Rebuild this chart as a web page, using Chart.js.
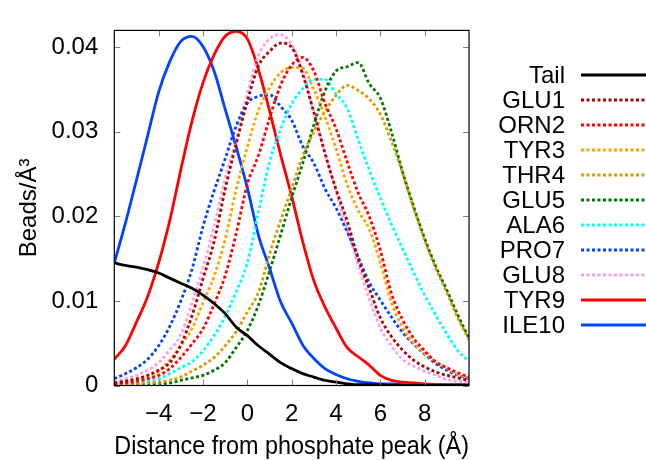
<!DOCTYPE html>
<html>
<head>
<meta charset="utf-8">
<script src="https://cdn.jsdelivr.net/npm/chart.js@4.4.0/dist/chart.umd.min.js"></script>
<style>
    html, body { margin: 0; padding: 0; background: #fff; }
    #wrap { width: 646px; height: 460px; }
</style>
</head>
<body>
<div id="wrap"><canvas id="chartOne" width="646" height="460"></canvas></div>
<script>
// distance from phosphate peak (Å)
var distancia = [-6, -5.5, -5, -4.5, -4, -3.5, -3, -2.5, -2, -1.5, -1, -0.5, 0, 0.5, 1, 1.5, 2,
                 2.5, 3, 3.5, 4, 4.5, 5, 5.5, 6, 6.5, 7, 7.5, 8, 8.5, 9, 9.5, 10];

var nombres = ['Tail', 'GLU1', 'ORN2', 'TYR3', 'THR4', 'GLU5', 'ALA6', 'PRO7', 'GLU8', 'TYR9', 'ILE10'];

var tail  = [0.0145, 0.0142, 0.0140, 0.0137, 0.0133, 0.0127, 0.0121, 0.0115, 0.0107, 0.0097, 0.0085, 0.0069, 0.0059, 0.0047, 0.0037, 0.0027, 0.0020,
             0.0014, 0.0010, 0.0006, 0.0004, 0.0002, 0.0001, 0.0001, 0.0001, 0, 0, 0, 0, 0, 0, 0, 0];
var glu1  = [0.0003, 0.0005, 0.0008, 0.0012, 0.0018, 0.0027, 0.0048, 0.0082, 0.0126, 0.0170, 0.0232, 0.0286, 0.0336, 0.0378, 0.0395, 0.0405, 0.0400,
             0.0368, 0.0323, 0.0275, 0.0232, 0.0195, 0.0150, 0.0115, 0.0080, 0.0058, 0.0042, 0.0030, 0.0022, 0.0016, 0.0012, 0.0009, 0.0006];
var orn2  = [0.0002, 0.0003, 0.0005, 0.0008, 0.0012, 0.0020, 0.0033, 0.0049, 0.0067, 0.0096, 0.0130, 0.0180, 0.0238, 0.0272, 0.0316, 0.0355, 0.0379,
             0.0388, 0.0372, 0.0334, 0.0304, 0.0265, 0.0228, 0.0200, 0.0160, 0.0109, 0.0078, 0.0056, 0.0041, 0.0028, 0.0021, 0.0015, 0.0010];
var tyr3  = [0.0003, 0.0004, 0.0006, 0.0009, 0.0017, 0.0030, 0.0047, 0.0067, 0.0098, 0.0129, 0.0173, 0.0232, 0.0282, 0.0325, 0.0352, 0.0370, 0.0376,
             0.0375, 0.0350, 0.0318, 0.0280, 0.0238, 0.0207, 0.0185, 0.0145, 0.0098, 0.0069, 0.0050, 0.0038, 0.0028, 0.0020, 0.0013, 0.0009];
var thr4  = [0.0001, 0.0001, 0.0002, 0.0003, 0.0004, 0.0006, 0.0010, 0.0017, 0.0024, 0.0033, 0.0047, 0.0064, 0.0087, 0.0110, 0.0155, 0.0195, 0.0233,
             0.0272, 0.0300, 0.0324, 0.0343, 0.0355, 0.0349, 0.0339, 0.0321, 0.0289, 0.0252, 0.0210, 0.0172, 0.0139, 0.0110, 0.0080, 0.0054];
var glu5  = [0, 0, 0.0001, 0.0001, 0.0002, 0.0003, 0.0006, 0.0009, 0.0012, 0.0018, 0.0027, 0.0045, 0.0065, 0.0095, 0.0135, 0.0178, 0.0222,
             0.0263, 0.0308, 0.0348, 0.0372, 0.0377, 0.0382, 0.0357, 0.0340, 0.0300, 0.0253, 0.0212, 0.0174, 0.0141, 0.0113, 0.0083, 0.0056];
var ala6  = [0.0001, 0.0002, 0.0003, 0.0005, 0.0008, 0.0014, 0.0021, 0.0028, 0.0041, 0.0059, 0.0082, 0.0111, 0.0145, 0.0205, 0.0264, 0.0303, 0.0333,
             0.0351, 0.0362, 0.0362, 0.0345, 0.0328, 0.0291, 0.0255, 0.0222, 0.0191, 0.0162, 0.0134, 0.0107, 0.0083, 0.0061, 0.0041, 0.0029];
var pro7  = [0.0008, 0.0014, 0.0021, 0.0031, 0.0047, 0.0070, 0.0100, 0.0137, 0.0188, 0.0230, 0.0268, 0.0307, 0.0334, 0.0342, 0.0344, 0.0330, 0.0314,
             0.0283, 0.0263, 0.0233, 0.0210, 0.0182, 0.0152, 0.0122, 0.0101, 0.0081, 0.0063, 0.0049, 0.0037, 0.0026, 0.0018, 0.0012, 0.0008];
var glu8  = [0.0004, 0.0008, 0.0012, 0.0018, 0.0027, 0.0042, 0.0060, 0.0097, 0.0139, 0.0188, 0.0245, 0.0290, 0.0345, 0.0390, 0.0410, 0.0415, 0.0403,
             0.0372, 0.0323, 0.0276, 0.0230, 0.0185, 0.0143, 0.0103, 0.0068, 0.0047, 0.0031, 0.0023, 0.0017, 0.0012, 0.0007, 0.0005, 0.0004];
var tyr9  = [0.0031, 0.0047, 0.0075, 0.0105, 0.0145, 0.0195, 0.0255, 0.0312, 0.0358, 0.0391, 0.0413, 0.0419, 0.0410, 0.0374, 0.0325, 0.0273, 0.0224,
             0.0170, 0.0124, 0.0093, 0.0068, 0.0045, 0.0034, 0.0024, 0.0012, 0.0006, 0.0004, 0.0003, 0.0002, 0.0001, 0.0001, 0.0001, 0.0001];
var ile10 = [0.0145, 0.0192, 0.0243, 0.0295, 0.0347, 0.0383, 0.0407, 0.0413, 0.0401, 0.0372, 0.0327, 0.0282, 0.0234, 0.0178, 0.0139, 0.0099, 0.0074,
             0.0048, 0.0032, 0.0020, 0.0013, 0.0008, 0.0005, 0.0003, 0.0002, 0.0002, 0.0001, 0.0001, 0.0001, 0.0001, 0.0001, 0.0001, 0.0001];

var series = [tail, glu1, orn2, tyr3, thr4, glu5, ala6, pro7, glu8, tyr9, ile10];

var xTicks = [-4, -2, 0, 2, 4, 6, 8];
var yTicks = [0, 0.01, 0.02, 0.03, 0.04];

// estilos
var colores = ['#000000', '#b00000', '#ff0000', '#ffa500', '#d89c00', '#007800', '#00ffff', '#0044ff', '#ff9ee6', '#ff0000', '#0044ff'];
var punteado = [false, true, true, true, true, true, true, true, true, false, false];
var FUENTE = "'Liberation Sans', Arial, sans-serif";
var TAM = 24;
var GROSOR = 2.8;
var DASH = [3, 2.5];

function puntos(vals) {
    return vals.map(function (v, i) { return { x: distancia[i], y: v }; });
}

var datasets = series.map(function (vals, i) {
    return {
        label: nombres[i],
        data: puntos(vals),
        borderColor: colores[i],
        borderWidth: GROSOR,
        borderDash: punteado[i] ? DASH : [],
        borderCapStyle: 'butt',
        pointRadius: 0,
        fill: false,
        cubicInterpolationMode: 'monotone'
    };
});

// marco y marcas hacia adentro (estilo gnuplot)
var marco = {
    id: 'marco',
    afterDatasetsDraw: function (chart) {
        var ctx = chart.ctx, a = chart.chartArea;
        var sx = chart.scales.x, sy = chart.scales.y;
        ctx.save();
        ctx.strokeStyle = '#808080';
        ctx.lineWidth = 1;
        ctx.setLineDash([]);
        xTicks.forEach(function (t) {
            var px = Math.round(sx.getPixelForValue(t)) + 0.5;
            ctx.beginPath();
            ctx.moveTo(px, a.bottom); ctx.lineTo(px, a.bottom - 6);
            ctx.moveTo(px, a.top); ctx.lineTo(px, a.top + 6);
            ctx.stroke();
        });
        yTicks.forEach(function (t) {
            var py = Math.round(sy.getPixelForValue(t)) + 0.5;
            ctx.beginPath();
            ctx.moveTo(a.left, py); ctx.lineTo(a.left + 6, py);
            ctx.moveTo(a.right, py); ctx.lineTo(a.right - 6, py);
            ctx.stroke();
        });
        ctx.strokeStyle = '#000';
        ctx.lineWidth = 1.2;
        ctx.strokeRect(a.left, a.top, a.right - a.left, a.bottom - a.top);
        ctx.restore();
    }
};

// leyenda a la derecha: texto y luego muestra de línea
var leyenda = {
    id: 'leyenda',
    afterDraw: function (chart) {
        var ctx = chart.ctx;
        ctx.save();
        ctx.font = TAM + 'px ' + FUENTE;
        ctx.textAlign = 'right';
        ctx.textBaseline = 'middle';
        chart.data.datasets.forEach(function (ds, i) {
            var y = 75 + i * 25;
            ctx.fillStyle = '#000';
            ctx.fillText(ds.label, 565, y + 1);
            ctx.strokeStyle = ds.borderColor;
            ctx.lineWidth = GROSOR;
            ctx.setLineDash(ds.borderDash);
            ctx.beginPath();
            ctx.moveTo(581, y);
            ctx.lineTo(646, y);
            ctx.stroke();
        });
        ctx.restore();
    }
};

var ctxOne = document.getElementById('chartOne').getContext('2d');
var chartOne = new Chart(ctxOne, {
    type: 'line',
    data: { datasets: datasets },
    options: {
        responsive: false,
        animation: false,
        devicePixelRatio: 1,
        layout: {
            padding: { left: 0, top: 13, right: 177, bottom: 0 }
        },
        plugins: {
            legend: { display: false },
            tooltip: { enabled: false }
        },
        scales: {
            x: {
                type: 'linear',
                min: -6,
                max: 10,
                afterBuildTicks: function (s) {
                    s.ticks = xTicks.map(function (v) { return { value: v }; });
                },
                afterFit: function (s) { s.height = 74.5; },
                grid: { display: false, drawTicks: false },
                border: { display: false },
                ticks: {
                    color: '#000',
                    padding: 14,
                    maxRotation: 0,
                    font: { family: FUENTE, size: TAM },
                    callback: function (v) { return v < 0 ? '\u2212' + Math.abs(v) : String(v); }
                },
                title: {
                    display: true,
                    text: 'Distance from phosphate peak (Å)',
                    color: '#000',
                    font: { family: FUENTE, size: 25 },
                    padding: { top: 0, bottom: -2 }
                }
            },
            y: {
                type: 'linear',
                min: 0,
                max: 0.042,
                afterBuildTicks: function (s) {
                    s.ticks = yTicks.map(function (v) { return { value: v }; });
                },
                afterFit: function (s) { s.width = 114.3; },
                grid: { display: false, drawTicks: false },
                border: { display: false },
                ticks: {
                    color: '#000',
                    padding: 16,
                    font: { family: FUENTE, size: TAM },
                    callback: function (v) { return v === 0 ? '0' : v.toFixed(2); }
                },
                title: {
                    display: true,
                    text: 'Beads/Å\u00b3',
                    color: '#000',
                    font: { family: FUENTE, size: TAM },
                    padding: { top: 15, bottom: 0 }
                }
            }
        }
    },
    plugins: [marco, leyenda]
});
</script>
</body>
</html>
